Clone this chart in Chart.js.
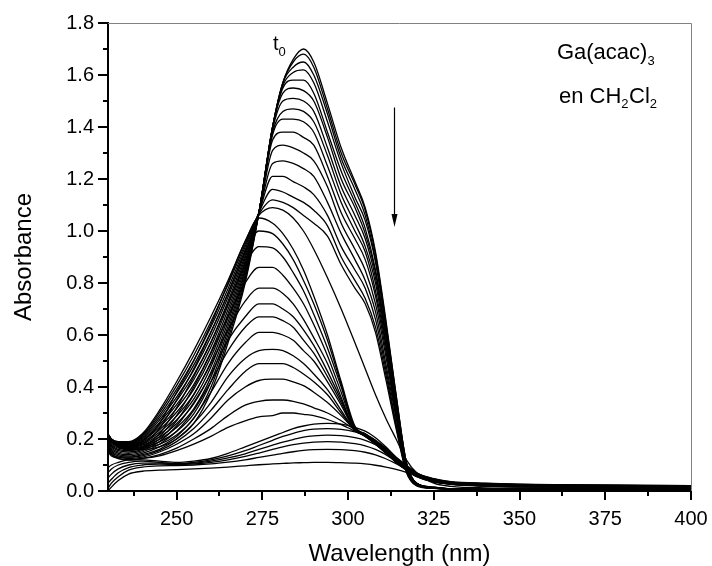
<!DOCTYPE html>
<html>
<head>
<meta charset="utf-8">
<script src="https://cdn.jsdelivr.net/npm/chart.js@4.4.1/dist/chart.umd.min.js"></script>
<style>
  html, body { margin: 0; padding: 0; background: #fff; }
  #wrap { width: 712px; height: 566px; }
</style>
</head>
<body>
<div id="wrap"><canvas id="spectraChart" width="712" height="566"></canvas></div>
<script>
// wavelength grid (nm) shared by every scan
const wavelengths = [230,231,233,236,240,245,250,255,260,265,270,274,278,281,284,287,290,294,298,302,305,308,311,314,317,320,325,330,340,360,400];

// first scans: band at 287 nm falling
const scan01 = [0.21,0.19,0.17,0.16,0.16,0.17,0.20,0.26,0.38,0.57,0.80,1.07, 1.40,1.57,1.66,1.70,1.65, 1.49,1.32,1.19,1.09,0.92,0.66,0.37,0.11,0.03, 0.015,0.008,0.006,0.006,0.005];
const scan02 = [0.21,0.19,0.17,0.162,0.164,0.179,0.215,0.279,0.399,0.586,0.811,1.07, 1.40,1.57,1.65,1.68,1.63, 1.47,1.30,1.18,1.08,0.91,0.65,0.37,0.11,0.03, 0.015,0.008,0.006,0.006,0.005];
const scan03 = [0.211,0.191,0.173,0.164,0.168,0.189,0.229,0.297,0.419,0.602,0.821,1.07, 1.40,1.57,1.63,1.65,1.60, 1.45,1.28,1.16,1.06,0.89,0.64,0.36,0.11,0.03, 0.014,0.008,0.006,0.006,0.005];
const scan04 = [0.212,0.192,0.174,0.166,0.172,0.198,0.244,0.316,0.438,0.618,0.832,1.07, 1.40,1.56,1.61,1.62,1.57, 1.42,1.26,1.13,1.04,0.88,0.63,0.35,0.10,0.03, 0.014,0.008,0.006,0.006,0.005];
const scan05 = [0.213,0.193,0.175,0.168,0.176,0.207,0.259,0.335,0.457,0.634,0.843,1.07, 1.40,1.55,1.58,1.58,1.53, 1.38,1.23,1.11,1.01,0.85,0.61,0.34,0.10,0.03, 0.013,0.008,0.006,0.006,0.005];
const scan06 = [0.213,0.193,0.177,0.17,0.18,0.217,0.273,0.353,0.477,0.65,0.853,1.07, 1.40,1.53,1.55,1.54,1.50, 1.36,1.20,1.09,0.99,0.84,0.60,0.34,0.10,0.03, 0.013,0.008,0.006,0.006,0.005];
const scan07 = [0.214,0.194,0.178,0.172,0.184,0.226,0.288,0.372,0.496,0.666,0.864,1.07, 1.39,1.50,1.51,1.50,1.46, 1.32,1.17,1.06,0.97,0.82,0.59,0.33,0.10,0.027, 0.013,0.008,0.006,0.006,0.005];
const scan08 = [0.215,0.195,0.179,0.174,0.188,0.235,0.303,0.391,0.515,0.682,0.875,1.07, 1.38,1.46,1.47,1.46,1.42, 1.29,1.14,1.03,0.94,0.80,0.57,0.32,0.095,0.026, 0.012,0.008,0.006,0.006,0.005];
const scan09 = [0.215,0.195,0.181,0.176,0.192,0.245,0.317,0.409,0.535,0.698,0.885,1.07, 1.37,1.43,1.43,1.42,1.38, 1.25,1.11,1.00,0.92,0.77,0.56,0.31,0.093,0.025, 0.012,0.007,0.006,0.006,0.005];
const scan10 = [0.216,0.196,0.182,0.178,0.196,0.254,0.332,0.428,0.554,0.714,0.896,1.07, 1.35,1.38,1.38,1.36,1.33, 1.21,1.07,0.97,0.89,0.75,0.54,0.30,0.09,0.025, 0.012,0.007,0.006,0.006,0.005];
const scan11 = [0.217,0.197,0.183,0.18,0.20,0.263,0.347,0.447,0.573,0.73,0.907,1.07, 1.31,1.33,1.32,1.30,1.27, 1.17,1.03,0.93,0.85,0.72,0.52,0.29,0.086,0.024, 0.011,0.007,0.006,0.006,0.005];
const scan12 = [0.217,0.197,0.185,0.182,0.204,0.273,0.361,0.465,0.593,0.746,0.917,1.07, 1.26,1.27,1.26,1.24,1.21, 1.11,0.99,0.89,0.81,0.69,0.49,0.28,0.082,0.023, 0.011,0.007,0.006,0.006,0.005];
const scan13 = [0.218,0.198,0.186,0.184,0.208,0.282,0.376,0.484,0.612,0.762,0.928,1.07, 1.21,1.21,1.19,1.17,1.14, 1.06,0.94,0.85,0.78,0.66,0.47,0.26,0.078,0.022, 0.011,0.007,0.006,0.006,0.005];
const scan14 = [0.219,0.199,0.187,0.186,0.212,0.291,0.391,0.503,0.631,0.778,0.939,1.07, 1.16,1.15,1.13,1.11,1.08, 1.02,0.90,0.81,0.74,0.63,0.45,0.25,0.075,0.021, 0.01,0.007,0.006,0.006,0.005];
const scan15 = [0.219,0.199,0.189,0.188,0.216,0.301,0.405,0.521,0.651,0.794,0.949,1.065, 1.12,1.11,1.09,1.06,1.03, 0.98,0.87,0.78,0.72,0.61,0.43,0.24,0.072,0.02, 0.01,0.007,0.006,0.006,0.005];
const scan16 = [0.22,0.20,0.19,0.19,0.22,0.31,0.42,0.54,0.67,0.81,0.96,1.06, 1.09,1.08,1.05,1.00,0.93, 0.82,0.70,0.57,0.47,0.37,0.28,0.20,0.12,0.07, 0.03,0.018,0.012,0.01,0.009];

// middle scans: band near 275 nm falling
const scan17 = [0.21,0.19,0.175,0.17,0.19,0.26,0.38,0.50,0.64,0.80,0.96,1.05, 1.03,0.99,0.93,0.85,0.75, 0.60,0.42,0.25,0.22,0.195,0.165,0.13,0.10,0.07, 0.045,0.032,0.024,0.019,0.017];
const scan18 = [0.205,0.185,0.17,0.165,0.18,0.24,0.35,0.47,0.61,0.76,0.92,1.00, 0.99,0.95,0.89,0.81,0.72, 0.58,0.41,0.245,0.22,0.194,0.163,0.128,0.098,0.069, 0.044,0.031,0.024,0.019,0.017];
const scan19 = [0.20,0.18,0.165,0.16,0.17,0.22,0.32,0.44,0.57,0.72,0.87,0.94, 0.935,0.90,0.84,0.77,0.68, 0.55,0.40,0.24,0.219,0.192,0.161,0.126,0.097,0.068, 0.043,0.031,0.023,0.018,0.016];
const scan20 = [0.195,0.175,0.16,0.155,0.165,0.21,0.29,0.40,0.53,0.67,0.80,0.86, 0.86,0.83,0.78,0.72,0.64, 0.52,0.38,0.24,0.218,0.19,0.159,0.124,0.095,0.066, 0.042,0.030,0.023,0.018,0.016];
const scan21 = [0.19,0.17,0.155,0.15,0.16,0.20,0.27,0.37,0.49,0.62,0.73,0.78, 0.78,0.76,0.72,0.66,0.59, 0.49,0.36,0.235,0.217,0.189,0.157,0.122,0.093,0.065, 0.041,0.030,0.022,0.018,0.016];
const scan22 = [0.185,0.165,0.15,0.145,0.155,0.19,0.25,0.34,0.45,0.58,0.67,0.72, 0.72,0.70,0.67,0.62,0.56, 0.46,0.35,0.235,0.216,0.188,0.155,0.12,0.091,0.063, 0.040,0.029,0.022,0.017,0.015];
const scan23 = [0.18,0.16,0.145,0.14,0.15,0.18,0.23,0.31,0.42,0.54,0.63,0.67, 0.67,0.655,0.63,0.58,0.53, 0.44,0.34,0.235,0.215,0.186,0.153,0.118,0.089,0.062, 0.039,0.029,0.021,0.017,0.015];
const scan24 = [0.175,0.155,0.14,0.135,0.145,0.17,0.21,0.28,0.38,0.49,0.57,0.61, 0.61,0.60,0.58,0.54,0.50, 0.42,0.33,0.235,0.214,0.185,0.151,0.116,0.087,0.06, 0.038,0.028,0.021,0.017,0.015];
const scan25 = [0.17,0.15,0.135,0.13,0.14,0.16,0.20,0.26,0.34,0.44,0.51,0.54, 0.545,0.54,0.52,0.49,0.45, 0.39,0.31,0.235,0.213,0.184,0.15,0.115,0.085,0.059, 0.037,0.028,0.020,0.016,0.014];
const scan26 = [0.165,0.145,0.13,0.13,0.135,0.155,0.19,0.24,0.31,0.39,0.46,0.49, 0.49,0.49,0.475,0.45,0.42, 0.37,0.30,0.235,0.212,0.183,0.149,0.113,0.084,0.058, 0.036,0.027,0.020,0.016,0.014];
const scan27 = [0.16,0.14,0.13,0.125,0.13,0.15,0.18,0.22,0.28,0.35,0.40,0.425, 0.43,0.43,0.42,0.405,0.38, 0.34,0.29,0.235,0.211,0.182,0.148,0.112,0.082,0.057, 0.036,0.027,0.020,0.016,0.014];
const scan28 = [0.155,0.14,0.125,0.12,0.125,0.14,0.165,0.20,0.24,0.29,0.33,0.345, 0.35,0.35,0.345,0.335,0.32, 0.30,0.27,0.235,0.21,0.181,0.147,0.111,0.081,0.056, 0.035,0.026,0.019,0.015,0.013];
const scan29 = [0.15,0.135,0.125,0.12,0.125,0.135,0.155,0.18,0.21,0.245,0.27,0.285, 0.29,0.30,0.30,0.295,0.29, 0.275,0.255,0.23,0.21,0.18,0.145,0.11,0.08,0.055, 0.035,0.026,0.019,0.015,0.013];

// last scans: flat residual band near 294 nm
const scan30 = [0.09,0.10,0.11,0.12,0.12,0.115,0.11,0.115,0.125,0.145,0.17,0.19, 0.21,0.225,0.24,0.25,0.257, 0.26,0.257,0.245,0.23,0.205,0.17,0.13,0.095,0.068, 0.048,0.036,0.030,0.024,0.021];
const scan31 = [0.07,0.085,0.10,0.11,0.115,0.11,0.105,0.11,0.12,0.135,0.155,0.175, 0.195,0.21,0.222,0.232,0.238, 0.24,0.237,0.227,0.214,0.192,0.16,0.125,0.092,0.066, 0.047,0.035,0.029,0.023,0.021];
const scan32 = [0.05,0.065,0.085,0.10,0.107,0.107,0.105,0.107,0.115,0.127,0.143,0.16, 0.176,0.188,0.198,0.207,0.212, 0.215,0.213,0.205,0.195,0.178,0.152,0.12,0.09,0.065, 0.046,0.034,0.028,0.023,0.020];
const scan33 = [0.03,0.045,0.07,0.09,0.10,0.103,0.102,0.104,0.11,0.12,0.133,0.146, 0.16,0.17,0.178,0.184,0.188, 0.19,0.188,0.182,0.174,0.16,0.14,0.114,0.087,0.063, 0.045,0.033,0.027,0.022,0.020];
const scan34 = [0.01,0.03,0.055,0.08,0.092,0.097,0.098,0.10,0.104,0.111,0.12,0.129, 0.138,0.145,0.151,0.156,0.159, 0.16,0.159,0.155,0.149,0.139,0.124,0.105,0.083,0.061, 0.044,0.032,0.026,0.022,0.019];
const scan35 = [0.0,0.015,0.04,0.065,0.076,0.08,0.082,0.085,0.088,0.092,0.097,0.101, 0.104,0.106,0.108,0.109,0.11, 0.11,0.109,0.107,0.104,0.099,0.092,0.083,0.072,0.058, 0.042,0.031,0.025,0.021,0.019];

const scans = [scan01,scan02,scan03,scan04,scan05,scan06,scan07,scan08,scan09,scan10,scan11,scan12,
  scan13,scan14,scan15,scan16,scan17,scan18,scan19,scan20,scan21,scan22,scan23,scan24,scan25,scan26,
  scan27,scan28,scan29,scan30,scan31,scan32,scan33,scan34,scan35];

const xTickValues = [250,275,300,325,350,375,400];
const xMinorValues = [237.5,262.5,287.5,312.5,337.5,362.5,387.5];
const yTickValues = [0,0.2,0.4,0.6,0.8,1.0,1.2,1.4,1.6,1.8];
const yMinorValues = [0.1,0.3,0.5,0.7,0.9,1.1,1.3,1.5,1.7];

const FONT = "'Liberation Sans', Arial, sans-serif";

// text pieces drawn left to right: [text, size, baseline shift]
function drawPieces(ctx, x, y, pieces) {
  pieces.forEach(([txt, size, dy]) => {
    ctx.font = size + 'px ' + FONT;
    ctx.fillText(txt, x, y + dy);
    x += ctx.measureText(txt).width + (dy ? 0.5 : 0);
  });
}

const framePlugin = {
  id: 'frame',
  afterDraw(chart) {
    const { ctx, chartArea: a, scales: { x, y } } = chart;
    ctx.save();

    // thin grey top and right edges
    ctx.strokeStyle = '#808080';
    ctx.lineWidth = 1;
    ctx.beginPath();
    ctx.moveTo(a.left, a.top + 0.5);
    ctx.lineTo(a.right + 0.5, a.top + 0.5);
    ctx.lineTo(a.right + 0.5, a.bottom);
    ctx.stroke();

    // outside ticks, major and minor
    ctx.strokeStyle = '#000';
    ctx.lineWidth = 2;
    ctx.beginPath();
    xTickValues.forEach(v => { const p = Math.round(x.getPixelForValue(v)); ctx.moveTo(p, a.bottom); ctx.lineTo(p, a.bottom + 9); });
    xMinorValues.forEach(v => { const p = Math.round(x.getPixelForValue(v)); ctx.moveTo(p, a.bottom); ctx.lineTo(p, a.bottom + 5); });
    yTickValues.forEach(v => { const p = Math.round(y.getPixelForValue(v)); ctx.moveTo(a.left, p); ctx.lineTo(a.left - 10, p); });
    yMinorValues.forEach(v => { const p = Math.round(y.getPixelForValue(v)); ctx.moveTo(a.left, p); ctx.lineTo(a.left - 5, p); });
    ctx.stroke();

    // arrow showing the decrease
    const ax = Math.round(x.getPixelForValue(313.3)) + 0.5;
    const aTop = y.getPixelForValue(1.475), aTip = y.getPixelForValue(1.015);
    ctx.lineWidth = 1.2;
    ctx.beginPath();
    ctx.moveTo(ax, aTop);
    ctx.lineTo(ax, aTip - 8);
    ctx.stroke();
    ctx.fillStyle = '#000';
    ctx.beginPath();
    ctx.moveTo(ax - 3, aTip - 13);
    ctx.lineTo(ax + 3, aTip - 13);
    ctx.lineTo(ax, aTip);
    ctx.closePath();
    ctx.fill();

    // labels
    ctx.textBaseline = 'alphabetic';
    ctx.textAlign = 'left';
    drawPieces(ctx, x.getPixelForValue(278.1), y.getPixelForValue(1.698), [['t', 20, 0], ['0', 13, 6]]);
    drawPieces(ctx, x.getPixelForValue(360.9), y.getPixelForValue(1.662), [['Ga(acac)', 22, 0], ['3', 13, 6]]);
    drawPieces(ctx, x.getPixelForValue(361.5), y.getPixelForValue(1.492), [['en CH', 22, 0], ['2', 13, 5], ['Cl', 22, 0], ['2', 13, 5]]);
    ctx.restore();
  }
};

const datasets = scans.map(s => ({
  data: s.map((v, i) => ({ x: wavelengths[i], y: v })),
  borderColor: '#000',
  borderWidth: 1.3,
  pointRadius: 0,
  fill: false,
  cubicInterpolationMode: 'monotone'
}));

new Chart(document.getElementById('spectraChart').getContext('2d'), {
  type: 'line',
  data: { datasets },
  options: {
    responsive: false,
    animation: false,
    events: [],
    layout: { padding: { top: 23, right: 21, left: 0, bottom: 0 } },
    plugins: { legend: { display: false }, tooltip: { enabled: false } },
    scales: {
      x: {
        type: 'linear', min: 230, max: 400,
        afterBuildTicks: s => { s.ticks = xTickValues.map(v => ({ value: v })); },
        afterFit: s => { s.height = 75; s.paddingLeft = 0; s.paddingRight = 0; },
        grid: { display: false, drawTicks: false },
        border: { display: true, color: '#000', width: 2 },
        ticks: { color: '#000', font: { family: FONT, size: 20 }, padding: 16, maxRotation: 0, autoSkip: false, callback: v => String(v) },
        title: { display: true, text: 'Wavelength (nm)', color: '#000', font: { family: FONT, size: 24, lineHeight: 1 }, padding: { top: 0, bottom: 0 } }
      },
      y: {
        min: 0, max: 1.8,
        afterBuildTicks: s => { s.ticks = yTickValues.map(v => ({ value: v })); },
        afterFit: s => { s.width = 108; s.paddingTop = 0; s.paddingBottom = 0; },
        grid: { display: false, drawTicks: false },
        border: { display: true, color: '#000', width: 2 },
        ticks: { color: '#000', font: { family: FONT, size: 20 }, padding: 14, autoSkip: false, callback: v => Number(v).toFixed(1) },
        title: { display: true, text: 'Absorbance', color: '#000', font: { family: FONT, size: 24, lineHeight: 1 }, padding: { top: 12, bottom: 0 } }
      }
    }
  },
  plugins: [framePlugin]
});
</script>
</body>
</html>
